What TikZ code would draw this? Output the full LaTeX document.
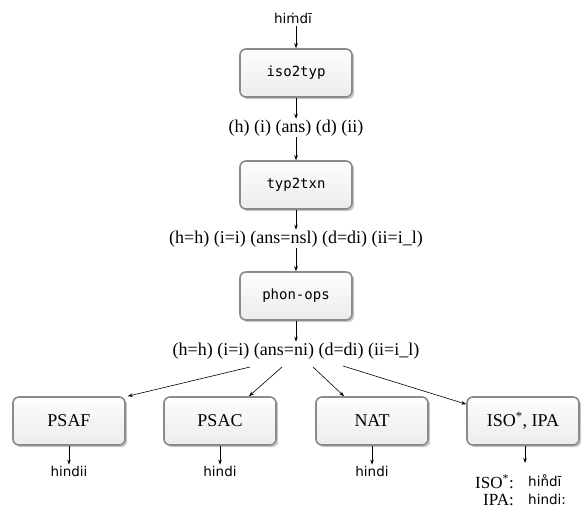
\documentclass[tikz,border=0pt]{standalone}
\usepackage{fontspec}
\setmainfont{Liberation Serif}
\newfontfamily\uisans{DejaVu Sans}
\newfontfamily\uimono{DejaVu Sans Mono}
\usetikzlibrary{arrows.meta,shadows}
\definecolor{boxborder}{HTML}{8A8A8A}
\definecolor{boxtop}{HTML}{FDFDFD}
\definecolor{boxbot}{HTML}{ECECEC}
\tikzset{
  proc/.style={draw=boxborder, line width=1.6pt, rounded corners=6pt,
    minimum width=112pt, minimum height=48pt, top color=boxtop, bottom color=boxbot,
    drop shadow={shadow xshift=2.2pt, shadow yshift=-2.2pt, fill=black!35, opacity=0.6}},
  monolbl/.style={font=\uimono\fontsize{14}{16}\selectfont},
  seriflbl/.style={font=\fontsize{18}{20}\selectfont},
  sanslbl/.style={font=\uisans\fontsize{13.5}{16}\selectfont, inner sep=1pt},
  flow/.style={-{Stealth[length=5pt,width=3.6pt]}, line width=0.6pt},
}
\begin{document}
\begin{tikzpicture}[x=1pt,y=-1pt]
\useasboundingbox (0,0) rectangle (582,508);
% top input
\node[sanslbl] (in) at (293,18) {hiṁdī};
\node[proc, monolbl] (iso2typ) at (296,73) {iso2typ};
\node[seriflbl, inner sep=1pt] (t1) at (296,128) {(h) (i) (ans) (d) (ii)};
\node[proc, monolbl] (typ2txn) at (296,185) {typ2txn};
\node[seriflbl, inner sep=1pt] (t2) at (296,239) {(h=h) (i=i) (ans=nsl) (d=di) (ii=i\_l)};
\node[proc, monolbl] (phon) at (296,296) {phon-ops};
\node[seriflbl, inner sep=1pt] (t3) at (296,351) {(h=h) (i=i) (ans=ni) (d=di) (ii=i\_l)};
% bottom boxes
\node[proc, seriflbl] (psaf) at (69,421) {PSAF};
\node[proc, seriflbl] (psac) at (220,421) {PSAC};
\node[proc, seriflbl] (nat) at (372,421) {NAT};
\node[proc, seriflbl] (iso) at (523,421) {ISO\textsuperscript{*}, IPA};
% outputs
\node[sanslbl] (o1) at (69,471) {hindii};
\node[sanslbl] (o2) at (220,471) {hindi};
\node[sanslbl] (o3) at (372,471) {hindi};
\node[seriflbl, anchor=east, inner sep=0pt, font=\fontsize{17}{18}\selectfont] (isok) at (514,482) {ISO\textsuperscript{*}:};
\node[seriflbl, anchor=east, inner sep=0pt, font=\fontsize{17}{18}\selectfont] (ipak) at (514,500) {IPA:};
\node[sanslbl, anchor=west, inner sep=0pt] (isov) at (528,481) {hin̊dī};
\node[sanslbl, anchor=west, inner sep=0pt] (ipav) at (528,499) {hindi:};
\coordinate (isoout) at (525,463);
% fan-out start points under the last text
\coordinate (f1) at (250,367);
\coordinate (f2) at (282,367);
\coordinate (f3) at (313,367);
\coordinate (f4) at (343,366);
% connectors
\draw[flow] ([yshift=-2pt]in.south -| iso2typ.north) -- (iso2typ.north);
\draw[flow] (iso2typ.south) -- (t1.north);
\draw[flow] (t1.south) -- (typ2txn.north);
\draw[flow] (typ2txn.south) -- (t2.north);
\draw[flow] (t2.south) -- (phon.north);
\draw[flow] (phon.south) -- (t3.north);
\draw[flow] (f1) -- ([xshift=2pt]psaf.north east);
\draw[flow] (f2) -- ([xshift=29pt]psac.north);
\draw[flow] (f3) -- ([xshift=-28pt]nat.north);
\draw[flow] (f4) -- ([yshift=-8pt]iso.north west);
\draw[flow] (psaf.south) -- (o1.north);
\draw[flow] (psac.south) -- (o2.north);
\draw[flow] (nat.south) -- (o3.north);
\draw[flow] (iso.south -| isoout) -- (isoout);
\end{tikzpicture}
\end{document}
